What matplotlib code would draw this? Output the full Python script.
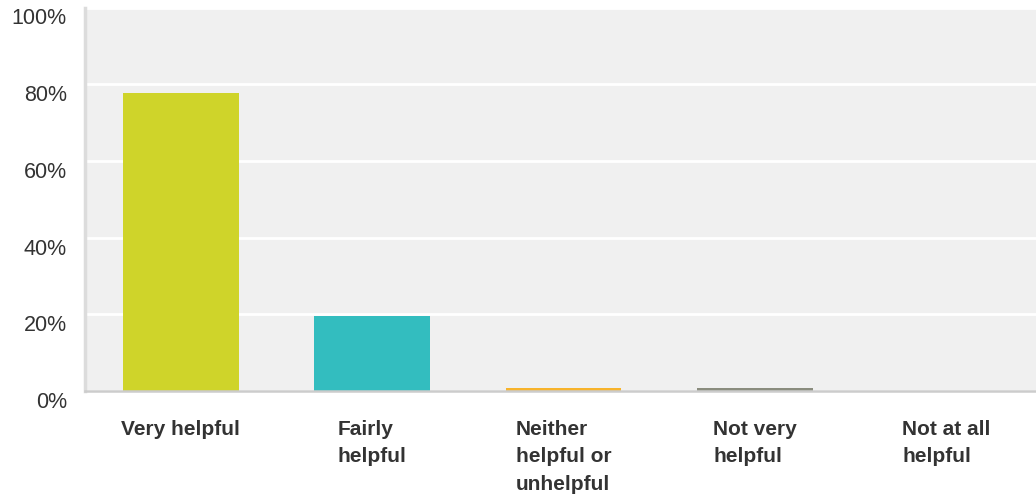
import matplotlib.pyplot as plt
from matplotlib.transforms import ScaledTranslation

# survey answers and share of respondents (%)
answers = ['Very helpful', 'Fairly\nhelpful', 'Neither\nhelpful or\nunhelpful',
           'Not very\nhelpful', 'Not at all\nhelpful']
shares = [77.8, 19.6, 0.8, 0.8, 0.0]
bar_colors = ['#cfd42a', '#33bdbf', '#f7b32b', '#8a8c7e', '#b0b0b0']
yticks = [0, 20, 40, 60, 80, 100]
ytick_labels = ['0%', '20%', '40%', '60%', '80%', '100%']

plt.rcParams['font.family'] = ['Liberation Sans', 'DejaVu Sans']


def main():
    fig = plt.figure(figsize=(10.36, 4.99), dpi=100)
    ax = fig.add_axes([85 / 1036, 108 / 499, 957 / 1036, 383.5 / 499])
    ax.set_facecolor('#f0f0f0')

    x = range(len(answers))
    ax.bar(x, shares, width=0.605, color=bar_colors, zorder=3)

    ax.set_xlim(-0.5, len(answers) - 0.5)
    ax.set_ylim(0, 100)

    ax.set_yticks(yticks, ytick_labels)
    ax.yaxis.grid(True, color='white', linewidth=2, zorder=1)
    ax.set_axisbelow(True)

    ax.set_xticks(list(x), answers)
    for lab in ax.get_xticklabels():
        lab.set_multialignment('left')
        lab.set_fontweight('bold')
        lab.set_linespacing(1.55)

    ax.tick_params(axis='x', length=0, pad=21, labelsize=15, labelcolor='#333333')
    ax.tick_params(axis='y', length=0, pad=13, labelsize=15.5, labelcolor='#333333')

    # push the percent labels a bit below their gridlines
    shift = ScaledTranslation(0, -9 / 100, fig.dpi_scale_trans)
    for lab in ax.get_yticklabels():
        lab.set_transform(lab.get_transform() + shift)

    for side in ['top', 'right']:
        ax.spines[side].set_visible(False)
    ax.spines['left'].set_color('#dcdcdc')
    ax.spines['left'].set_linewidth(2.5)
    ax.spines['bottom'].set_color('#cccccc')
    ax.spines['bottom'].set_linewidth(1.8)
    ax.spines['bottom'].set_zorder(4)

    plt.savefig('out.png', dpi=100)


if __name__ == '__main__':
    main()
